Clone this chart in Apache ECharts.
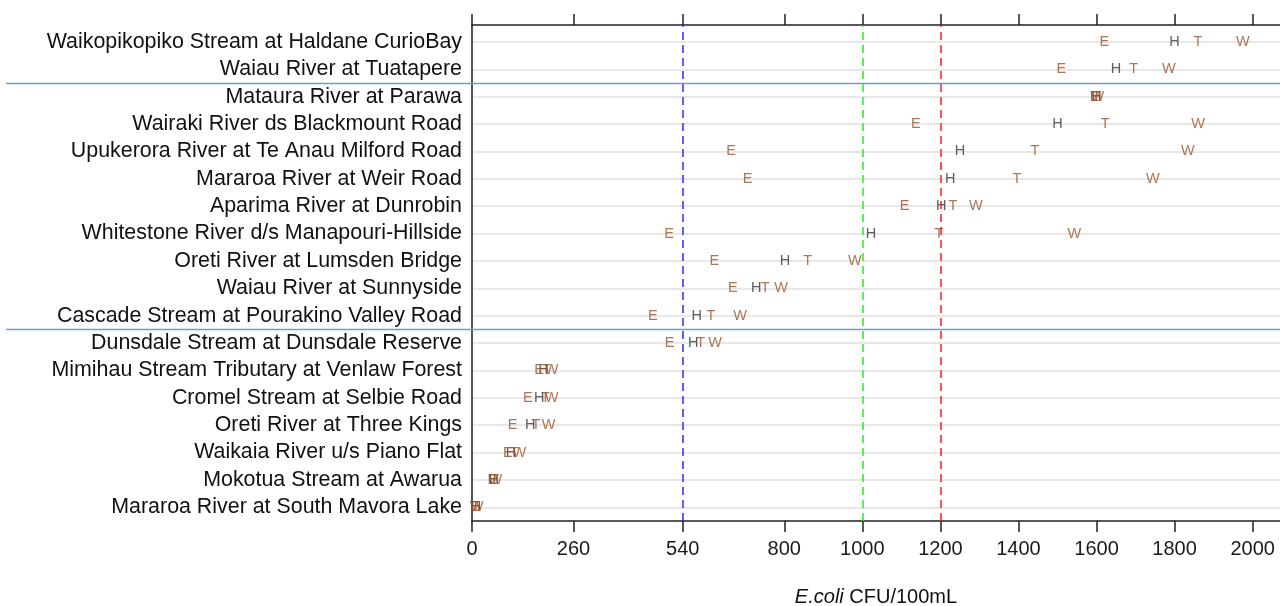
<!DOCTYPE html>
<html>
<head>
<meta charset="utf-8">
<script src="https://cdn.jsdelivr.net/npm/echarts@6/dist/echarts.min.js"></script>
<style>html,body{margin:0;padding:0;background:#fff}#c{width:1280px;height:606px}</style>
</head>
<body>
<div id="c"></div>
<script>
// Sites, listed top to bottom as in the chart
const sites = [
  'Waikopikopiko Stream at Haldane CurioBay',
  'Waiau River at Tuatapere',
  'Mataura River at Parawa',
  'Wairaki River ds Blackmount Road',
  'Upukerora River at Te Anau Milford Road',
  'Mararoa River at Weir Road',
  'Aparima River at Dunrobin',
  'Whitestone River d/s Manapouri-Hillside',
  'Oreti River at Lumsden Bridge',
  'Waiau River at Sunnyside',
  'Cascade Stream at Pourakino Valley Road',
  'Dunsdale Stream at Dunsdale Reserve',
  'Mimihau Stream Tributary at Venlaw Forest',
  'Cromel Stream at Selbie Road',
  'Oreti River at Three Kings',
  'Waikaia River u/s Piano Flat',
  'Mokotua Stream at Awarua',
  'Mararoa River at South Mavora Lake'
];
// E.coli CFU/100mL for each marker letter (same order as sites)
const eValues = [1620, 1510, 1595, 1137, 664, 706, 1108, 505, 621, 668, 463, 506, 172, 143, 104, 92, 52, 8];
const hValues = [1800, 1650, 1600, 1500, 1250, 1225, 1202, 1022, 802, 728, 576, 567, 183, 172, 149, 100, 56, 10];
const tValues = [1860, 1695, 1600, 1622, 1442, 1396, 1232, 1196, 860, 751, 612, 586, 190, 188, 164, 108, 58, 10];
const wValues = [1975, 1785, 1602, 1860, 1834, 1744, 1291, 1543, 981, 792, 687, 623, 204, 204, 196, 121, 60, 12];

const xTickValues = [0, 260, 540, 800, 1000, 1200, 1400, 1600, 1800, 2000];
const thresholds = [540, 1000, 1200];
const thresholdColors = ['#2b2bff', '#22ee22', '#ff1a1a'];
const groupBreaksAfter = [2, 11]; // separator after this many rows (from top)

const FONT = 'Liberation Sans, Arial, sans-serif';
const N = sites.length;
const rowIdx = sites.map((s, i) => i);

function letterSeries(letter, vals, color, extra) {
  return Object.assign({
    type: 'scatter',
    name: letter,
    silent: true,
    clip: false,
    data: vals.map((v, i) => [v, N - 1 - i]),
    symbol: 'rect',
    symbolSize: 1,
    itemStyle: { color: 'rgba(0,0,0,0)' },
    label: {
      show: true, position: 'inside', formatter: letter,
      color: color, fontSize: 14.5, fontFamily: FONT
    },
    emphasis: { disabled: true },
    labelLayout: { hideOverlap: false }
  }, extra || {});
}

const sepStyle = { color: '#6d9bd2', type: 'solid', width: 1.3 };
const markLineData = [];
thresholds.forEach((t, i) => {
  markLineData.push({ xAxis: t, lineStyle: { color: thresholdColors[i], type: [8, 5], width: 1.5 } });
});
groupBreaksAfter.forEach(k => {
  const y = N - k - 0.5;
  markLineData.push([
    { x: 6, yAxis: y, lineStyle: sepStyle },
    { x: 1280, yAxis: y, lineStyle: sepStyle }
  ]);
});

const chart = echarts.init(document.getElementById('c'), null, { renderer: 'canvas' });
chart.setOption({
  animation: false,
  backgroundColor: '#fff',
  textStyle: { fontFamily: FONT },
  grid: { left: 472, right: 0, top: 25, bottom: 85, containLabel: false, outerBoundsMode: 'none' },
  xAxis: [
    {
      type: 'value', position: 'bottom', min: 0, max: 2070,
      axisLine: { show: true, onZero: false, lineStyle: { color: '#222', width: 1.5 } },
      axisTick: { show: true, length: 11, customValues: xTickValues, lineStyle: { color: '#222', width: 1.5 } },
      axisLabel: { customValues: xTickValues, formatter: v => String(v), fontSize: 20, color: '#1a1a1a', margin: 18, fontFamily: FONT },
      splitLine: { show: false },
      name: '{i|E.coli} CFU/100mL',
      nameLocation: 'middle', nameGap: 66,
      nameTextStyle: { fontSize: 20, color: '#111', fontFamily: FONT,
        rich: { i: { fontStyle: 'italic', fontSize: 20, fontFamily: FONT, color: '#111' } } }
    },
    {
      type: 'value', position: 'top', min: 0, max: 2070,
      axisLine: { show: true, onZero: false, lineStyle: { color: '#222', width: 1.5 } },
      axisTick: { show: true, length: 11, customValues: xTickValues, lineStyle: { color: '#222', width: 1.5 } },
      axisLabel: { show: false },
      splitLine: { show: false }
    }
  ],
  yAxis: {
    type: 'value', min: -0.5, max: 17.62,
    axisLine: { show: true, onZero: false, lineStyle: { color: '#555', width: 2 } },
    axisTick: { show: false, customValues: rowIdx },
    axisLabel: {
      customValues: rowIdx,
      formatter: v => sites[N - 1 - Math.round(v)],
      fontSize: 21.4, color: '#111', margin: 10, fontFamily: FONT
    },
    splitLine: { show: true, lineStyle: { color: '#e8e8e8', width: 2 } }
  },
  series: [
    letterSeries('H', hValues, '#333333', {
      markLine: {
        silent: true, animation: false, symbol: ['none', 'none'],
        label: { show: false }, emphasis: { disabled: true },
        lineStyle: sepStyle,
        data: markLineData
      }
    }),
    letterSeries('E', eValues, '#9a522b'),
    letterSeries('T', tValues, '#9a522b'),
    letterSeries('W', wValues, '#9a522b')
  ]
});
</script>
</body>
</html>
